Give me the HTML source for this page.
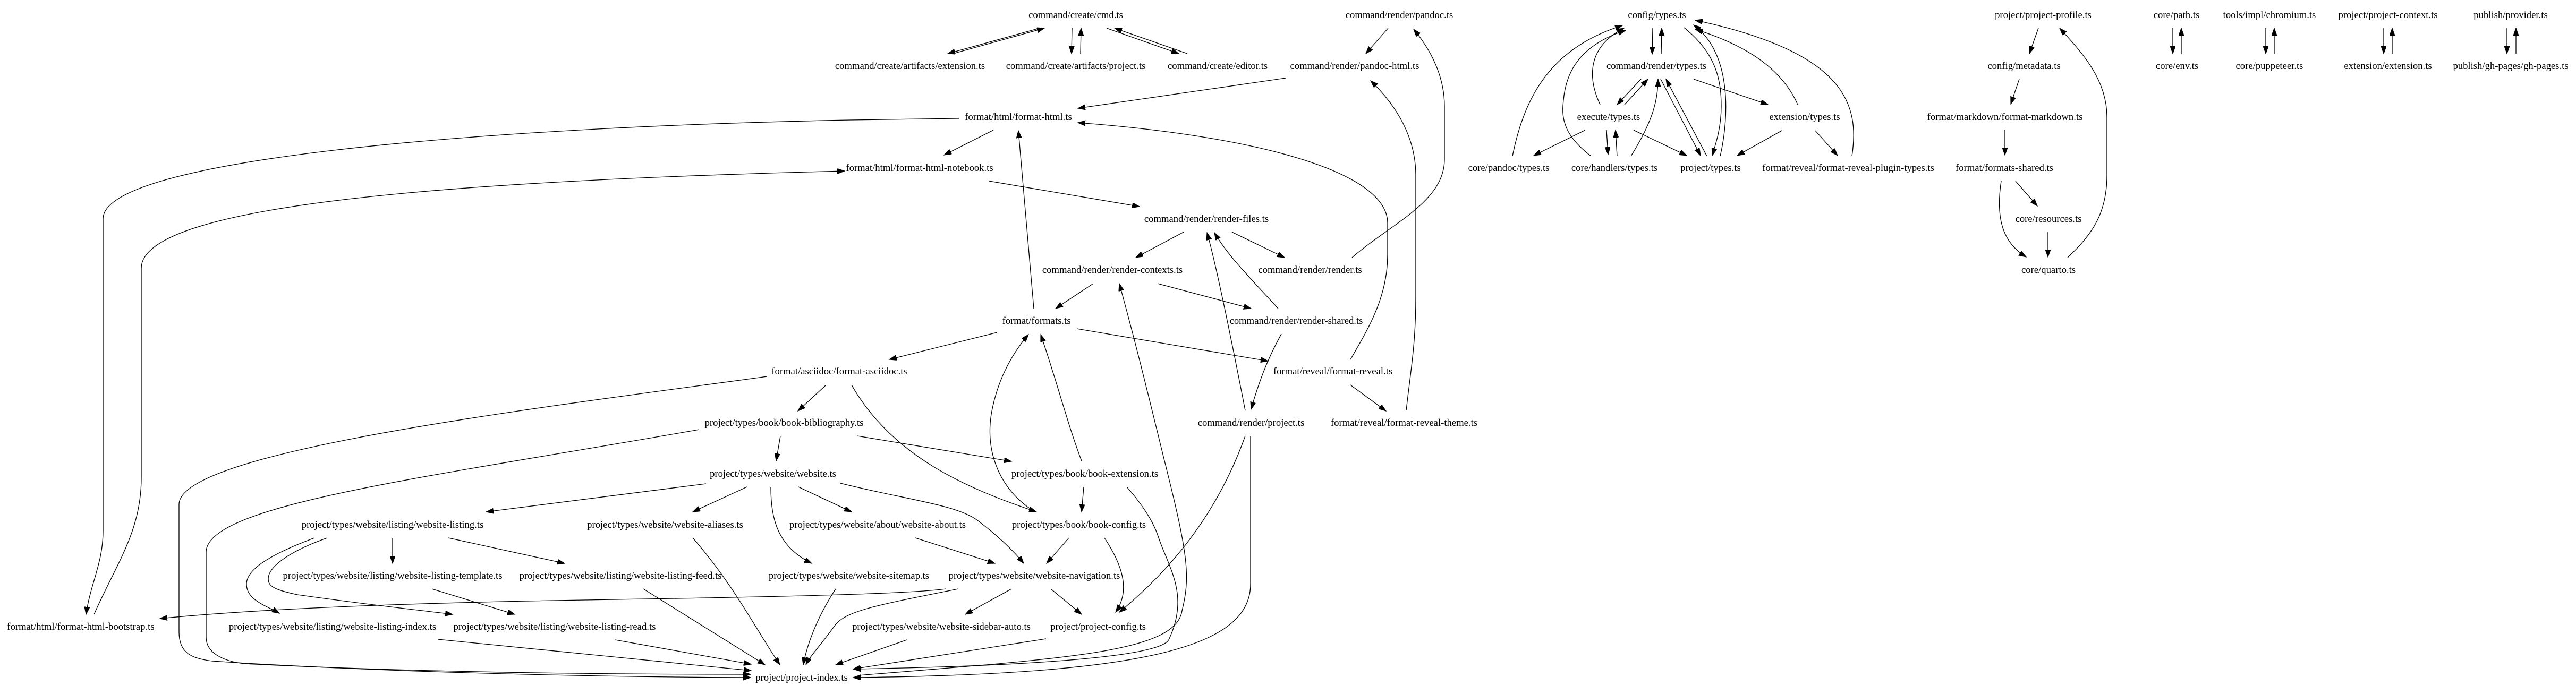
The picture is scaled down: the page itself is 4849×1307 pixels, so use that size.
<!DOCTYPE html>
<html><head><meta charset="utf-8"><style>
html,body{margin:0;padding:0;background:#fff;}
svg{display:block;}
text{font-family:"Liberation Serif","DejaVu Serif",serif;font-size:18.67px;fill:#000;text-anchor:middle;}
path{fill:none;stroke:#000;stroke-width:1.3;}
</style></head><body>
<svg width="4849" height="1307" viewBox="0 0 4849 1307" xmlns="http://www.w3.org/2000/svg">
<defs>
<marker id="a" markerUnits="userSpaceOnUse" markerWidth="16" markerHeight="12" refX="14" refY="5" orient="auto">
<path d="M0,0 L14,5 L0,10 Z" style="fill:#000;stroke:#000;stroke-width:1"/>
</marker>
</defs>
<g marker-end="url(#a)">
<path d="M1957,53 L1784,101"/>
<path d="M1794,101 L1966,53"/>
<path d="M2018,53 L2017,101"/>
<path d="M2034,101 L2035,53"/>
<path d="M2083,53 L2219,101"/>
<path d="M2235,101 L2098,53"/>
<path d="M2613,53 L2571,101"/>
<path d="M2545,485 C2620,420 2719,380 2719,300 L2719,200 C2719,140 2690,90 2661,55"/>
<path d="M2420,147 L2029,204"/>
<path d="M2542,677 C2575,620 2612,560 2612,480 L2612,420 C2612,320 2350,255 2029,231"/>
<path d="M2647,773 C2655,700 2665,650 2665,560 L2665,330 C2665,260 2630,200 2580,152"/>
<path d="M1870,245 L1777,292"/>
<path d="M1805,223 L1600,226 C900,240 194,300 194,412 L194,1000 C194,1060 170,1100 162,1157"/>
<path d="M177,1157 C220,1060 266,1000 266,900 L266,505 C266,380 900,340 1590,322"/>
<path d="M1862,341 L2145,389"/>
<path d="M1946,581 L1917,246"/>
<path d="M2228,437 L2138,485"/>
<path d="M2319,437 L2418,485"/>
<path d="M2406,581 C2350,520 2310,480 2286,438"/>
<path d="M2344,773 C2320,650 2290,500 2272,438"/>
<path d="M2058,534 L1987,581"/>
<path d="M2179,534 L2355,581"/>
<path d="M1616,1272 C2000,1240 2214,1230 2225,1150 C2240,1090 2237,1050 2200,900 C2170,780 2147,680 2107,534"/>
<path d="M1877,626 L1674,677"/>
<path d="M2027,619 L2387,680"/>
<path d="M2412,629 C2395,660 2375,700 2355,771"/>
<path d="M2542,725 L2609,774"/>
<path d="M1555,725 L1502,774"/>
<path d="M1603,725 C1680,860 1820,920 1951,964"/>
<path d="M1444,709 C1000,770 337,850 337,950 L337,1190 C337,1230 360,1240 400,1245 C700,1265 1100,1275 1413,1276"/>
<path d="M1316,809 C800,900 388,950 388,1040 L388,1200 C388,1230 420,1245 460,1250 C760,1265 1100,1270 1413,1270"/>
<path d="M1469,821 L1461,868"/>
<path d="M1614,821 L1904,869"/>
<path d="M1329,911 L915,964"/>
<path d="M1406,917 L1304,964"/>
<path d="M1451,917 C1451,980 1465,1030 1528,1061"/>
<path d="M1503,917 L1603,964"/>
<path d="M1582,910 C1700,940 1800,950 1840,980 C1880,1010 1910,1040 1927,1061"/>
<path d="M2040,917 L2036,964"/>
<path d="M1945,962 C1880,920 1855,850 1866,780 C1878,710 1910,660 1936,630"/>
<path d="M2036,868 C2010,800 1990,720 1959,630"/>
<path d="M2121,917 C2150,950 2170,980 2180,1010 C2200,1070 2240,1120 2200,1205 C2180,1240 1900,1255 1606,1260"/>
<path d="M1723,1013 L1873,1061"/>
<path d="M2012,1013 L1970,1061"/>
<path d="M2079,1013 C2110,1060 2130,1110 2100,1153"/>
<path d="M2344,821 C2280,1000 2170,1100 2107,1153"/>
<path d="M2354,821 L2354,1100 C2354,1220 2150,1270 1606,1276"/>
<path d="M1904,1109 L1817,1157"/>
<path d="M1978,1109 L2036,1157"/>
<path d="M1781,1109 C1700,1120 1400,1125 1100,1130 C800,1135 500,1145 301,1165"/>
<path d="M1804,1109 C1650,1140 1590,1150 1570,1180 C1545,1215 1525,1235 1517,1252"/>
<path d="M1304,1013 C1380,1100 1420,1180 1468,1252"/>
<path d="M1211,1109 L1440,1252"/>
<path d="M1573,1109 C1540,1160 1520,1210 1512,1252"/>
<path d="M1707,1205 L1573,1252"/>
<path d="M1969,1203 L1606,1260"/>
<path d="M824,1204 L1414,1263"/>
<path d="M1158,1205 L1414,1251"/>
<path d="M739,1013 L739,1061"/>
<path d="M844,1013 L1063,1061"/>
<path d="M592,1013 C520,1040 464,1069 464,1100 C464,1130 500,1140 526,1155"/>
<path d="M616,1013 C540,1040 505,1069 505,1090 C505,1105 518,1111 560,1120 C700,1140 800,1150 852,1157"/>
<path d="M813,1109 L969,1157"/>
<path d="M3111,53 L3110,102"/>
<path d="M3127,102 L3128,53"/>
<path d="M3089,149 L3044,197"/>
<path d="M3058,197 L3102,149"/>
<path d="M3012,197 C2990,150 2985,90 3057,53"/>
<path d="M2847,294 C2870,180 2920,90 3054,48"/>
<path d="M2995,294 C2950,260 2940,230 2942,200 C2945,150 2960,90 3060,57"/>
<path d="M3070,294 C3110,230 3121,190 3121,149"/>
<path d="M2984,245 L2887,293"/>
<path d="M3024,245 L3027,291"/>
<path d="M3044,294 L3041,245"/>
<path d="M3075,245 L3175,293"/>
<path d="M3126,149 L3201,293"/>
<path d="M3213,294 L3136,149"/>
<path d="M3170,52 C3230,100 3240,150 3240,200 C3240,240 3230,270 3223,293"/>
<path d="M3238,294 C3255,220 3260,100 3188,47"/>
<path d="M3384,197 C3350,120 3270,80 3191,55"/>
<path d="M3486,294 C3500,200 3480,100 3191,38"/>
<path d="M3188,149 L3328,197"/>
<path d="M3354,246 L3270,293"/>
<path d="M3417,246 L3459,293"/>
<path d="M3837,53 L3820,101"/>
<path d="M3801,149 L3785,196"/>
<path d="M3774,245 L3774,292"/>
<path d="M3794,341 L3835,388"/>
<path d="M3767,341 C3755,420 3775,460 3814,484"/>
<path d="M3855,437 L3855,484"/>
<path d="M3892,485 C3940,440 3966,400 3966,330 L3966,220 C3966,150 3920,100 3877,53"/>
<path d="M4090,53 L4090,101"/>
<path d="M4106,101 L4106,53"/>
<path d="M4265,53 L4265,101"/>
<path d="M4281,101 L4281,53"/>
<path d="M4487,53 L4487,101"/>
<path d="M4503,101 L4503,53"/>
<path d="M4719,53 L4719,101"/>
<path d="M4736,101 L4736,53"/>
</g>
<g>
<text x="2025" y="34">command/create/cmd.ts</text>
<text x="1713" y="130">command/create/artifacts/extension.ts</text>
<text x="2025" y="130">command/create/artifacts/project.ts</text>
<text x="2292" y="130">command/create/editor.ts</text>
<text x="2634" y="34">command/render/pandoc.ts</text>
<text x="2550" y="130">command/render/pandoc-html.ts</text>
<text x="1917" y="226">format/html/format-html.ts</text>
<text x="1731" y="322">format/html/format-html-notebook.ts</text>
<text x="2271" y="418">command/render/render-files.ts</text>
<text x="2094" y="514">command/render/render-contexts.ts</text>
<text x="2466" y="514">command/render/render.ts</text>
<text x="1951" y="610">format/formats.ts</text>
<text x="2440" y="610">command/render/render-shared.ts</text>
<text x="1580" y="705">format/asciidoc/format-asciidoc.ts</text>
<text x="2509" y="705">format/reveal/format-reveal.ts</text>
<text x="1476" y="802">project/types/book/book-bibliography.ts</text>
<text x="2355" y="802">command/render/project.ts</text>
<text x="2643" y="802">format/reveal/format-reveal-theme.ts</text>
<text x="1455" y="898">project/types/website/website.ts</text>
<text x="2042" y="898">project/types/book/book-extension.ts</text>
<text x="739" y="994">project/types/website/listing/website-listing.ts</text>
<text x="1252" y="994">project/types/website/website-aliases.ts</text>
<text x="1652" y="994">project/types/website/about/website-about.ts</text>
<text x="2031" y="994">project/types/book/book-config.ts</text>
<text x="739" y="1090">project/types/website/listing/website-listing-template.ts</text>
<text x="1168" y="1090">project/types/website/listing/website-listing-feed.ts</text>
<text x="1598" y="1090">project/types/website/website-sitemap.ts</text>
<text x="1947" y="1090">project/types/website/website-navigation.ts</text>
<text x="152" y="1186">format/html/format-html-bootstrap.ts</text>
<text x="626" y="1186">project/types/website/listing/website-listing-index.ts</text>
<text x="1044" y="1186">project/types/website/listing/website-listing-read.ts</text>
<text x="1772" y="1186">project/types/website/website-sidebar-auto.ts</text>
<text x="2067" y="1186">project/project-config.ts</text>
<text x="1509" y="1282">project/project-index.ts</text>
<text x="3119" y="34">config/types.ts</text>
<text x="3118" y="130">command/render/types.ts</text>
<text x="3028" y="226">execute/types.ts</text>
<text x="3397" y="226">extension/types.ts</text>
<text x="2840" y="322">core/pandoc/types.ts</text>
<text x="3039" y="322">core/handlers/types.ts</text>
<text x="3220" y="322">project/types.ts</text>
<text x="3479" y="322">format/reveal/format-reveal-plugin-types.ts</text>
<text x="3846" y="34">project/project-profile.ts</text>
<text x="3810" y="130">config/metadata.ts</text>
<text x="3774" y="226">format/markdown/format-markdown.ts</text>
<text x="3773" y="322">format/formats-shared.ts</text>
<text x="3856" y="418">core/resources.ts</text>
<text x="3856" y="514">core/quarto.ts</text>
<text x="4097" y="34">core/path.ts</text>
<text x="4098" y="130">core/env.ts</text>
<text x="4272" y="34">tools/impl/chromium.ts</text>
<text x="4272" y="130">core/puppeteer.ts</text>
<text x="4495" y="34">project/project-context.ts</text>
<text x="4495" y="130">extension/extension.ts</text>
<text x="4726" y="34">publish/provider.ts</text>
<text x="4726" y="130">publish/gh-pages/gh-pages.ts</text>
</g>
</svg>
</body></html>
